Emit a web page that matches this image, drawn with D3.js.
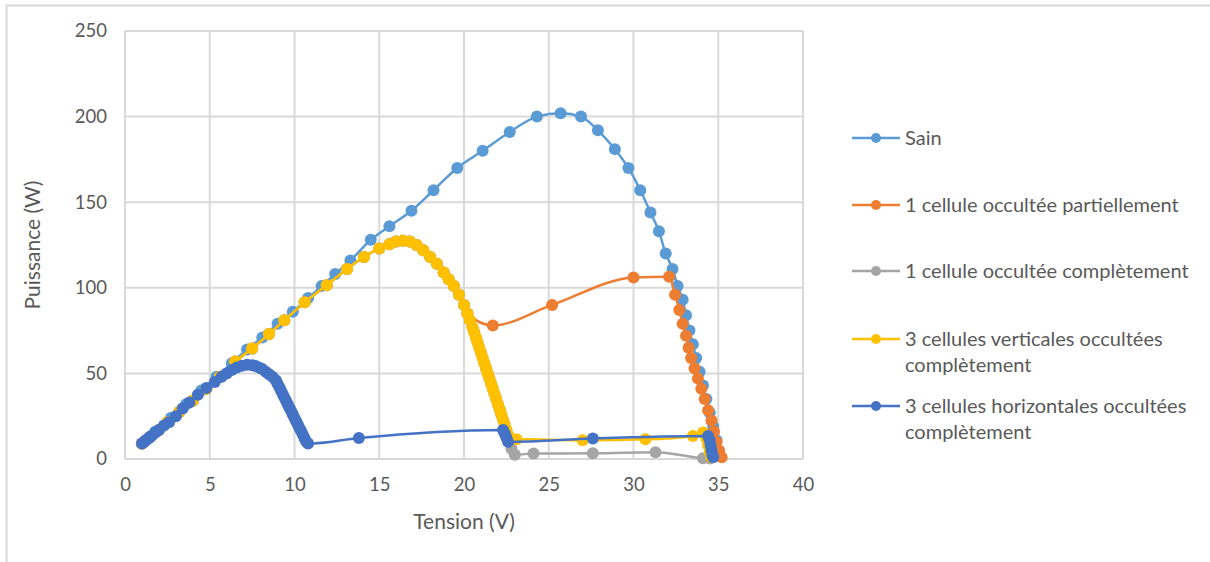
<!DOCTYPE html>
<html><head><meta charset="utf-8">
<script src="https://cdn.jsdelivr.net/npm/d3@7"></script>
<style>
html,body{margin:0;padding:0;background:#fff;}
svg text{font-family:Lato,"Liberation Sans",Arial,sans-serif;fill:#595959;}
</style></head>
<body><svg id="c" width="1210" height="562"></svg>
<script>
// ---- data ----
const xTicks = [0,5,10,15,20,25,30,35,40];
const yTicks = [0,50,100,150,200,250];
const seriesNames = ["Sain","1 cellule occultée partiellement","1 cellule occultée complètement","3 cellules verticales occultées complètement","3 cellules horizontales occultées complètement"];
const seriesColors = ["#5B9BD5","#ED7D31","#A5A5A5","#FFC000","#4472C4"];

const sainV = [1.0,1.8,2.7,3.6,4.5,5.4,6.3,7.2,8.1,9.0,9.9,10.8,11.6,12.4,13.3,14.5,15.6,16.9,18.2,19.6,21.1,22.7,24.3,25.7,26.9,27.9,28.9,29.7,30.4,31.0,31.5,31.9,32.3,32.6,32.9,33.1,33.3,33.5,33.7,33.9,34.1,34.3,34.5,34.7,34.9,35.1];
const sainP = [9,16,24,32,40,48,56,64,71,79,86,94,101,108,116,128,136,145,157,170,180,191,200,202,200,192,181,170,157,144,133,120,111,101,93,84,75,67,59,51,43,35,27,19,11,2];

// shared rising part of the three shaded curves (orange, gray, yellow)
const riseV = [1.0,1.5,2.0,2.5,3.2,4.0,4.8,5.6,6.5,7.5,8.5,9.4,10.6,11.9,13.1,14.1,15.0,15.6,16.0,16.4,16.8,17.2,17.6,18.0,18.4,18.8,19.1,19.4,19.7,20.0,20.2];
const riseP = [9,13,17,21.5,27.5,34,41,48,57,64.5,73,81,91.5,101.5,111,118,123,125.5,127,127.5,127,125,122,118,114,109,105,101,96,90,85];
// shared steep descent (gray, yellow)
const fallV = [20.35,20.5,20.6,20.7,20.8,20.9,21.0,21.1,21.2,21.3,21.4,21.5,21.6,21.7,21.8,21.9,22.0,22.1,22.2,22.3,22.4,22.5,22.6,22.7];
const fallP = [81,77,74,71,68,65,62,59,56,53,50,47,44,41,38,35,32,29,26,23,20,17,14,11];

const orangeTailV = [21.7,25.2,30.0,32.1,32.45,32.7,32.9,33.1,33.25,33.4,33.6,33.8,34.0,34.2,34.4,34.6,34.75,34.9,35.05,35.2];
const orangeTailP = [78,90,106,106.5,96,87,79,72,65,59,53,47,41,35,28.5,22.5,16,10,5,1];

const grayTailV = [22.8,23.0,24.1,27.6,31.3,34.1,34.5];
const grayTailP = [6,2.5,3.2,3.3,4,0.5,0.3];

const yellowTailV = [22.8,23.1,27.0,30.7,33.5,34.1,34.3,34.4,34.5,34.6];
const yellowTailP = [11.5,11.5,11,11.5,13.5,15.5,12,8,4,1];

const blueV = [1.0,1.1,1.2,1.3,1.4,1.5,1.6,1.8,2.0,2.3,2.6,3.0,3.4,3.8,4.3,4.8,5.3,5.7,6.0,6.3,6.6,6.9,7.2,7.5,7.7,7.9,8.1,8.3,8.5,8.7,8.9,9.0,9.1,9.2,9.3,9.4,9.5,9.6,9.7,9.8,9.9,10.0,10.1,10.2,10.3,10.4,10.5,10.6,10.7,10.8,13.8,22.3,22.4,22.5,22.6,27.6,34.4,34.5,34.55,34.6,34.65,34.7];
const blueP = [9,9.8,10.6,11.4,12.2,13,13.8,15.5,17,19.5,21.5,25,29.5,33,37.5,41.5,45,48,50,52,53.5,54.5,55,54.8,54.3,53.5,52.5,51,49.5,48,46,44,42,40,38,36,34,32,30,28,26,24,22,20,18,16,14,12,10,9,12.3,17,15,12.5,10,12,13.5,11,8,5,2.5,1];

function zip(v,p){return v.map((d,i)=>({v:d,p:p[i]}));}
const series = [
  zip(sainV,sainP),
  zip(riseV.concat(orangeTailV), riseP.concat(orangeTailP)),
  zip(riseV.concat(fallV,grayTailV), riseP.concat(fallP,grayTailP)),
  zip(riseV.concat(fallV,yellowTailV), riseP.concat(fallP,yellowTailP)),
  zip(blueV,blueP)
];

// ---- chart ----
const svg = d3.select("#c");
const x = d3.scaleLinear().domain([0,40]).range([125,803]);
const y = d3.scaleLinear().domain([0,250]).range([459,31]);

// outer frame
svg.append("line").attr("x1",6).attr("x2",1210).attr("y1",5.5).attr("y2",5.5).attr("stroke","#D9D9D9").attr("stroke-width",2);
svg.append("line").attr("x1",6.5).attr("x2",6.5).attr("y1",5).attr("y2",562).attr("stroke","#D9D9D9").attr("stroke-width",2);

// gridlines
svg.append("g").selectAll("line").data(xTicks).join("line")
  .attr("x1",d=>x(d)).attr("x2",d=>x(d)).attr("y1",y(0)).attr("y2",y(250))
  .attr("stroke","#D9D9D9").attr("stroke-width",2);
svg.append("g").selectAll("line").data(yTicks).join("line")
  .attr("y1",d=>y(d)).attr("y2",d=>y(d)).attr("x1",x(0)).attr("x2",x(40))
  .attr("stroke","#D9D9D9").attr("stroke-width",2);

// axes (labels only)
const xa = svg.append("g").attr("transform",`translate(0,${y(0)})`)
  .call(d3.axisBottom(x).tickValues(xTicks).tickSize(0).tickPadding(19));
const ya = svg.append("g").attr("transform",`translate(${x(0)},0)`)
  .call(d3.axisLeft(y).tickValues(yTicks).tickSize(0).tickPadding(18));
[xa,ya].forEach(a=>{a.select(".domain").remove();a.selectAll("text").style("font-size","18.5px").style("font-family","Lato, Liberation Sans, Arial, sans-serif").attr("fill","#595959");});

// axis titles
svg.append("text").attr("x",464).attr("y",529).attr("text-anchor","middle").style("font-size","21px").text("Tension (V)");
svg.append("text").attr("transform","translate(40,245) rotate(-90)").attr("text-anchor","middle").style("font-size","21px").text("Puissance (W)");

// series
const line = d3.line().x(d=>x(d.v)).y(d=>y(d.p)).curve(d3.curveMonotoneX);
series.forEach((s,i)=>{
  const g = svg.append("g");
  g.append("path").attr("d",line(s)).attr("fill","none").attr("stroke",seriesColors[i]).attr("stroke-width",2.5);
  g.selectAll("circle").data(s).join("circle").attr("cx",d=>x(d.v)).attr("cy",d=>y(d.p)).attr("r",6).attr("fill",seriesColors[i]);
});

// legend
const legY = [138,205,271,339,406];
const legLines = [["Sain"],["1 cellule occultée partiellement"],["1 cellule occultée complètement"],["3 cellules verticales occultées","complètement"],["3 cellules horizontales occultées","complètement"]];
legY.forEach((ly,i)=>{
  svg.append("line").attr("x1",852).attr("x2",900).attr("y1",ly).attr("y2",ly).attr("stroke",seriesColors[i]).attr("stroke-width",2.5);
  svg.append("circle").attr("cx",876).attr("cy",ly).attr("r",5).attr("fill",seriesColors[i]);
  const t = svg.append("text").attr("x",905).attr("y",ly+6.5).style("font-size","20px");
  legLines[i].forEach((s,j)=>t.append("tspan").attr("x",905).attr("dy",j?26:0).text(s));
});
</script></body></html>
